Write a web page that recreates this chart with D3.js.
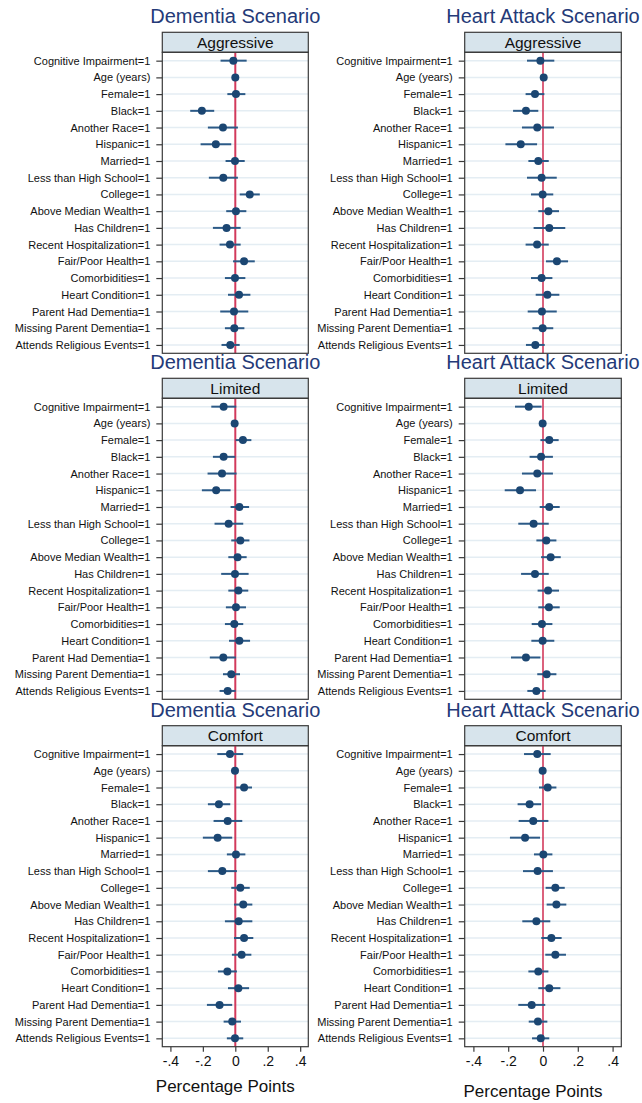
<!DOCTYPE html>
<html>
<head>
<meta charset="utf-8">
<script src="https://cdn.jsdelivr.net/npm/d3@7"></script>
<style>
  html, body { margin: 0; padding: 0; background: #fff; }
  svg { display: block; font-family: "Liberation Sans", Arial, sans-serif; }
</style>
</head>
<body>
<svg id="chart" width="642" height="1103"></svg>
<script>
// Covariate labels (rows, top to bottom)
const covariates = [
  "Cognitive Impairment=1", "Age (years)", "Female=1", "Black=1", "Another Race=1",
  "Hispanic=1", "Married=1", "Less than High School=1", "College=1",
  "Above Median Wealth=1", "Has Children=1", "Recent Hospitalization=1",
  "Fair/Poor Health=1", "Comorbidities=1", "Heart Condition=1",
  "Parent Had Dementia=1", "Missing Parent Dementia=1", "Attends Religious Events=1"
];

const scenarios = ["Dementia Scenario", "Heart Attack Scenario"];
const careTypes = ["Aggressive", "Limited", "Comfort"];
const xTickValues = [-0.4, -0.2, 0, 0.2, 0.4];
const xTickLabels = ["-.4", "-.2", "0", ".2", ".4"];
const xTitle = "Percentage Points";

// Dementia scenario — Aggressive
const demAggEst = [-0.012, 0.000, 0.004, -0.206, -0.076, -0.120, -0.002, -0.074, 0.089, 0.004, -0.054, -0.033, 0.054, -0.002, 0.023, -0.008, -0.006, -0.031];
const demAggLo  = [-0.091, -0.005, -0.049, -0.278, -0.169, -0.214, -0.060, -0.163, 0.027, -0.056, -0.138, -0.097, -0.014, -0.064, -0.045, -0.093, -0.064, -0.085];
const demAggHi  = [0.070, 0.005, 0.062, -0.130, 0.016, -0.025, 0.058, 0.016, 0.151, 0.068, 0.033, 0.033, 0.120, 0.062, 0.093, 0.080, 0.056, 0.027];

// Heart attack scenario — Aggressive
const haAggEst = [-0.015, 0.004, -0.046, -0.098, -0.033, -0.128, -0.027, -0.008, -0.002, 0.031, 0.036, -0.034, 0.080, -0.008, 0.025, -0.006, -0.002, -0.044];
const haAggLo  = [-0.092, -0.001, -0.100, -0.172, -0.121, -0.216, -0.084, -0.092, -0.069, -0.027, -0.054, -0.100, 0.017, -0.069, -0.042, -0.088, -0.061, -0.098];
const haAggHi  = [0.065, 0.009, 0.008, -0.027, 0.063, -0.034, 0.033, 0.079, 0.059, 0.092, 0.128, 0.033, 0.144, 0.054, 0.094, 0.079, 0.059, 0.010];

// Dementia scenario — Limited
const demLimEst = [-0.072, -0.004, 0.047, -0.072, -0.082, -0.118, 0.025, -0.041, 0.031, 0.014, -0.002, 0.019, 0.004, -0.006, 0.025, -0.074, -0.025, -0.047];
const demLimLo  = [-0.148, -0.009, 0.002, -0.138, -0.171, -0.206, -0.029, -0.128, -0.025, -0.043, -0.087, -0.043, -0.058, -0.064, -0.039, -0.157, -0.076, -0.097];
const demLimHi  = [0.006, 0.001, 0.099, 0.000, 0.008, -0.029, 0.085, 0.049, 0.087, 0.070, 0.082, 0.080, 0.066, 0.049, 0.091, 0.004, 0.029, 0.002];

// Heart attack scenario — Limited
const haLimEst = [-0.082, -0.002, 0.036, -0.011, -0.033, -0.132, 0.036, -0.054, 0.019, 0.044, -0.046, 0.029, 0.034, -0.006, -0.002, -0.098, 0.021, -0.038];
const haLimLo  = [-0.161, -0.007, -0.015, -0.077, -0.121, -0.220, -0.019, -0.142, -0.038, -0.011, -0.126, -0.031, -0.027, -0.065, -0.067, -0.184, -0.033, -0.090];
const haLimHi  = [-0.008, 0.003, 0.090, 0.057, 0.057, -0.040, 0.096, 0.033, 0.077, 0.102, 0.033, 0.092, 0.096, 0.054, 0.065, -0.015, 0.077, 0.015];

// Dementia scenario — Comfort
const demComEst = [-0.033, -0.002, 0.054, -0.101, -0.047, -0.109, 0.004, -0.080, 0.031, 0.049, 0.021, 0.054, 0.039, -0.049, 0.019, -0.097, -0.019, -0.002];
const demComLo  = [-0.111, -0.007, 0.002, -0.169, -0.134, -0.200, -0.052, -0.169, -0.025, -0.008, -0.064, -0.008, -0.021, -0.107, -0.045, -0.175, -0.072, -0.052];
const demComHi  = [0.049, 0.003, 0.103, -0.031, 0.043, -0.019, 0.062, 0.010, 0.089, 0.105, 0.105, 0.111, 0.099, 0.010, 0.085, -0.019, 0.035, 0.049];

// Heart attack scenario — Comfort
const haComEst = [-0.033, -0.002, 0.027, -0.077, -0.056, -0.103, 0.002, -0.031, 0.071, 0.077, -0.038, 0.048, 0.071, -0.027, 0.036, -0.065, -0.029, -0.013];
const haComLo  = [-0.109, -0.007, -0.023, -0.146, -0.140, -0.190, -0.052, -0.115, 0.015, 0.021, -0.119, -0.010, 0.013, -0.084, -0.027, -0.142, -0.082, -0.063];
const haComHi  = [0.044, 0.003, 0.077, -0.011, 0.031, -0.017, 0.054, 0.057, 0.125, 0.134, 0.042, 0.107, 0.132, 0.031, 0.100, 0.013, 0.025, 0.036];

const panelData = [
  [ {est: demAggEst, lo: demAggLo, hi: demAggHi}, {est: haAggEst, lo: haAggLo, hi: haAggHi} ],
  [ {est: demLimEst, lo: demLimLo, hi: demLimHi}, {est: haLimEst, lo: haLimLo, hi: haLimHi} ],
  [ {est: demComEst, lo: demComLo, hi: demComHi}, {est: haComEst, lo: haComLo, hi: haComHi} ]
];

// Layout
const colLayout = [
  { left: 162.3, right: 308.3, refWidth: 2 },
  { left: 464.7, right: 621.3, refWidth: 1.6 }
];
const headerTops = [32.3, 378.3, 725.7];
const headerH = 20;
const plotH = 301;

const colors = {
  title: "#243a78",
  header: "#d7e4ec",
  frame: "#3a3a3a",
  grid: "#e4edf3",
  ref: "#d23a5c",
  ci: "#2c5a87",
  dot: "#1b4672"
};

const svg = d3.select("#chart");

colLayout.forEach((col, c) => {
  const x = d3.scaleLinear().domain([-0.45, 0.45]).range([col.left, col.right]);

  headerTops.forEach((hTop, r) => {
    const pTop = hTop + headerH;
    const pBot = pTop + plotH;
    const y = d3.scalePoint().domain(covariates).range([pTop, pBot]).padding(0.5);
    const d = panelData[r][c];
    const g = svg.append("g");

    // Scenario title
    g.append("text")
      .attr("x", x(0))
      .attr("y", hTop - 9)
      .attr("text-anchor", "middle")
      .attr("font-size", 20)
      .attr("fill", colors.title)
      .text(scenarios[c]);

    // Strip header
    g.append("rect")
      .attr("x", col.left).attr("y", hTop)
      .attr("width", col.right - col.left).attr("height", headerH)
      .attr("fill", colors.header)
      .attr("stroke", colors.frame).attr("stroke-width", 1.2);
    g.append("text")
      .attr("x", (col.left + col.right) / 2)
      .attr("y", hTop + headerH / 2 + 5.5)
      .attr("text-anchor", "middle")
      .attr("font-size", 15.5)
      .attr("fill", "#111")
      .text(careTypes[r]);

    // Horizontal grid lines
    g.append("g").selectAll("line").data(covariates).join("line")
      .attr("x1", col.left).attr("x2", col.right)
      .attr("y1", v => y(v)).attr("y2", v => y(v))
      .attr("stroke", colors.grid).attr("stroke-width", 1.5);

    // Zero reference line
    g.append("line")
      .attr("x1", x(0)).attr("x2", x(0))
      .attr("y1", pTop).attr("y2", pBot)
      .attr("stroke", colors.ref).attr("stroke-width", col.refWidth);

    // Confidence intervals
    g.append("g").selectAll("line").data(covariates).join("line")
      .attr("x1", (v, i) => x(d.lo[i])).attr("x2", (v, i) => x(d.hi[i]))
      .attr("y1", v => y(v)).attr("y2", v => y(v))
      .attr("stroke", colors.ci).attr("stroke-width", 2);

    // Point estimates
    g.append("g").selectAll("circle").data(covariates).join("circle")
      .attr("cx", (v, i) => x(d.est[i]))
      .attr("cy", v => y(v))
      .attr("r", 4)
      .attr("fill", colors.dot);

    // Y axis with covariate labels
    const yAxis = g.append("g")
      .attr("transform", `translate(${col.left},0)`)
      .call(d3.axisLeft(y).tickSize(6).tickPadding(6));
    yAxis.select(".domain").remove();
    yAxis.selectAll(".tick line").attr("stroke", colors.frame).attr("stroke-width", 1.2);
    yAxis.selectAll(".tick text")
      .attr("font-size", 11)
      .attr("fill", "#111")
      .attr("font-family", "Liberation Sans, Arial, sans-serif");

    // Plot frame
    g.append("rect")
      .attr("x", col.left).attr("y", pTop)
      .attr("width", col.right - col.left).attr("height", plotH)
      .attr("fill", "none")
      .attr("stroke", colors.frame).attr("stroke-width", 1.2);

    // X axis on the bottom row only
    if (r === headerTops.length - 1) {
      const xAxis = g.append("g")
        .attr("transform", `translate(0,${pBot})`)
        .call(d3.axisBottom(x).tickValues(xTickValues)
          .tickFormat((v, i) => xTickLabels[i]).tickSize(5).tickPadding(4));
      xAxis.select(".domain").remove();
      xAxis.selectAll(".tick line").attr("stroke", colors.frame).attr("stroke-width", 1.2);
      xAxis.selectAll(".tick text")
        .attr("font-size", 14)
        .attr("fill", "#111")
        .attr("font-family", "Liberation Sans, Arial, sans-serif");

      g.append("text")
        .attr("x", x(0) - 10)
        .attr("y", pBot + 45 + c * 5)
        .attr("text-anchor", "middle")
        .attr("font-size", 17)
        .attr("fill", "#111")
        .text(xTitle);
    }
  });
});
</script>
</body>
</html>
